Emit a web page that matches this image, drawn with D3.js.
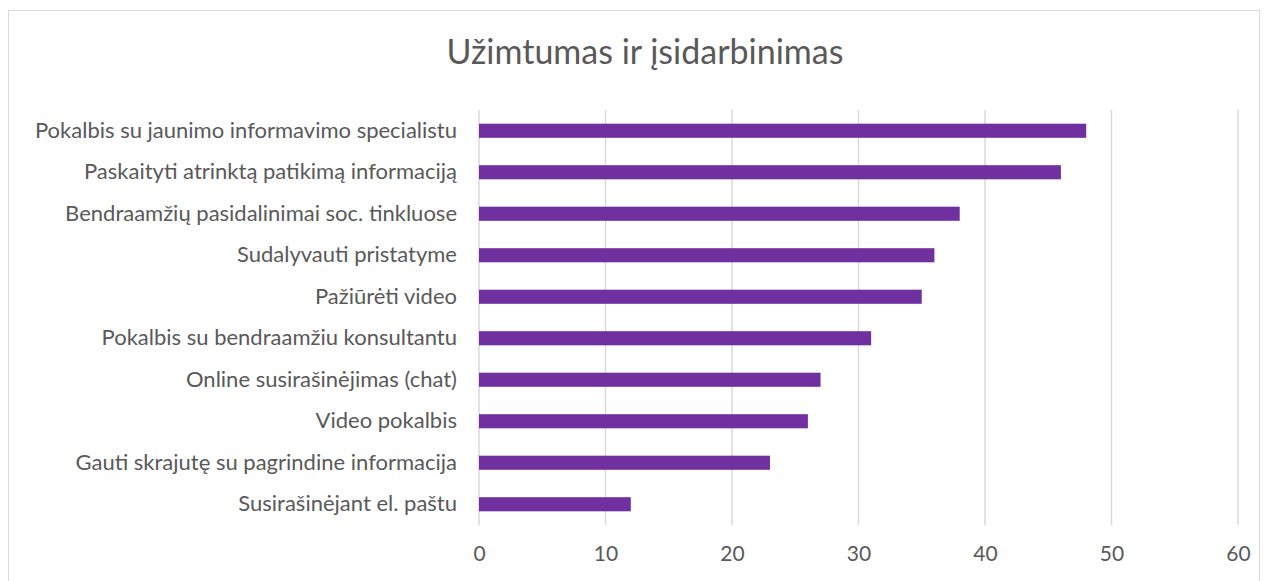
<!DOCTYPE html>
<html>
<head>
<meta charset="utf-8">
<script src="https://cdn.jsdelivr.net/npm/d3@7"></script>
<style>
  body { margin: 0; background: #fff; }
  text { font-family: Lato, "Open Sans", sans-serif; fill: #595959; }
</style>
</head>
<body>
<div id="svganchor"></div>
<script>
let width = 1269, height = 581;

let categories = [
    "Pokalbis su jaunimo informavimo specialistu",
    "Paskaityti atrinktą patikimą informaciją",
    "Bendraamžių pasidalinimai soc. tinkluose",
    "Sudalyvauti pristatyme",
    "Pažiūrėti video",
    "Pokalbis su bendraamžiu konsultantu",
    "Online susirašinėjimas (chat)",
    "Video pokalbis",
    "Gauti skrajutę su pagrindine informacija",
    "Susirašinėjant el. paštu"
];
let values = [48, 46, 38, 36, 35, 31, 27, 26, 23, 12];
let tickValues = [0, 10, 20, 30, 40, 50, 60];
let title = "Užimtumas ir įsidarbinimas";

let margin = ({top: 110, right: 31, bottom: 56, left: 479});

let xScale = d3.scaleLinear()
    .domain([0, 60])
    .range([margin.left, width - margin.right]);

let yScale = d3.scaleBand()
    .domain(categories)
    .range([margin.top, height - margin.bottom])
    .paddingInner(0.66)
    .paddingOuter(0.33);

let svg = d3.select("#svganchor")
    .append("svg")
    .attr("width", width)
    .attr("height", height);

// chart frame
svg.append("rect")
    .attr("x", 8.5)
    .attr("y", 10.5)
    .attr("width", 1251)
    .attr("height", 600)
    .attr("fill", "none")
    .attr("stroke", "#d9d9d9");

svg.append("text")
    .attr("text-anchor", "middle")
    .attr("x", 645)
    .attr("y", 64)
    .style("font-size", "34px")
    .text(title);

// gridlines
svg.append("g")
    .selectAll("line")
    .data(tickValues)
    .enter()
    .append("line")
    .attr("x1", d => xScale(d))
    .attr("x2", d => xScale(d))
    .attr("y1", margin.top)
    .attr("y2", height - margin.bottom)
    .attr("stroke", "#d9d9d9")
    .attr("stroke-width", 1.5);

svg.selectAll(".bar")
    .data(values)
    .enter()
    .append("rect")
    .attr("class", "bar")
    .attr("x", xScale(0))
    .attr("y", (d, i) => yScale(categories[i]))
    .attr("width", d => xScale(d) - xScale(0))
    .attr("height", yScale.bandwidth())
    .attr("fill", "#7030a0");

let xAxis = d3.axisBottom(xScale)
    .tickValues(tickValues)
    .tickSize(0)
    .tickPadding(21);

let gX = svg.append("g")
    .attr("transform", "translate(0," + (height - margin.bottom) + ")")
    .call(xAxis);
gX.select(".domain").remove();
gX.selectAll("text")
    .style("font-size", "21px")
    .attr("fill", "#595959");

let yAxis = d3.axisLeft(yScale)
    .tickSize(0)
    .tickPadding(22);

let gY = svg.append("g")
    .attr("transform", "translate(" + margin.left + ",0)")
    .call(yAxis);
gY.select(".domain").remove();
gY.selectAll("text")
    .style("font-size", "22px")
    .attr("fill", "#595959");
</script>
</body>
</html>
